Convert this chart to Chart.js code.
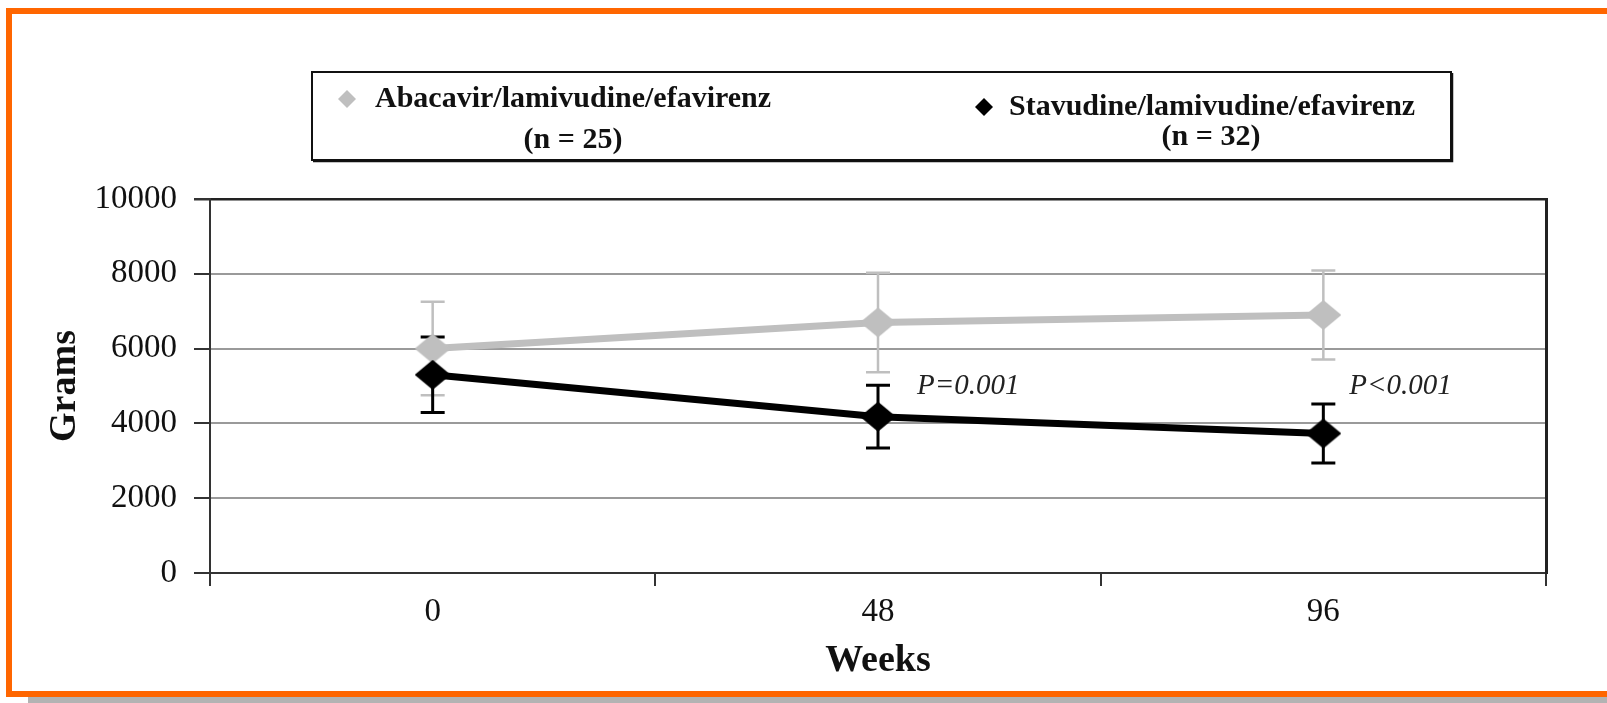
<!DOCTYPE html>
<html>
<head>
  <title>Grams by week</title>
  <script src="https://cdn.jsdelivr.net/npm/chart.js"></script>
  <style>
    html, body { margin: 0; padding: 0; background: #fff; overflow: hidden; }
    #frame { position: absolute; left: 6px; top: 8px; width: 1700px; height: 677px;
             border: 6px solid #ff6600; border-right: none; }
    #shadow { position: absolute; left: 28px; top: 697px; width: 1600px; height: 6px; background: #b3b3b3; }
    #wrap { position: absolute; left: 0; top: 0; width: 1607px; height: 703px; }
  </style>
</head>
<body>
  <div id="frame"></div>
  <div id="shadow"></div>
  <div id="wrap"><canvas id="weightChart" width="1607" height="703"></canvas></div>
  <script>
    const weeks = ['0', '48', '96'];
    const abacavir = [6000, 6700, 6900];
    const abacavirErr = [1250, 1330, 1190];
    const stavudine = [5300, 4180, 3730];
    const stavudineErr = [1010, 840, 790];
    const pLabels = ['', 'P=0.001', 'P<0.001'];
    const pAt = [null, 5000, 5000];
    const legendNames = ['Abacavir/lamivudine/efavirenz', 'Stavudine/lamivudine/efavirenz'];
    const legendCounts = ['(n = 25)', '(n = 32)'];

    const GRAY = '#bfbfbf';
    const SERIF = '"Liberation Serif", "Times New Roman", serif';

    // wide diamond marker, the picture is a bit stretched
    function diamond(color, w, h) {
      const c = document.createElement('canvas');
      c.width = w; c.height = h;
      const g = c.getContext('2d');
      g.fillStyle = color;
      g.beginPath();
      g.moveTo(w / 2, 0); g.lineTo(w, h / 2); g.lineTo(w / 2, h); g.lineTo(0, h / 2);
      g.closePath();
      g.fill();
      return c;
    }

    const errorBars = {
      id: 'errorBars',
      beforeDatasetsDraw(chart) {
        const ctx = chart.ctx, x = chart.scales.x, y = chart.scales.y;
        const sets = [[abacavir, abacavirErr, GRAY, 2.5], [stavudine, stavudineErr, '#000', 3]];
        ctx.save();
        sets.forEach(([vals, errs, color, lw]) => {
          ctx.strokeStyle = color;
          ctx.lineWidth = lw;
          vals.forEach((v, i) => {
            const px = x.getPixelForValue(i);
            const top = y.getPixelForValue(v + errs[i]);
            const bot = y.getPixelForValue(v - errs[i]);
            ctx.beginPath();
            ctx.moveTo(px, top); ctx.lineTo(px, bot);
            ctx.moveTo(px - 12, top); ctx.lineTo(px + 12, top);
            ctx.moveTo(px - 12, bot); ctx.lineTo(px + 12, bot);
            ctx.stroke();
          });
        });
        ctx.restore();
      }
    };

    const notes = {
      id: 'notes',
      afterDraw(chart) {
        const ctx = chart.ctx, x = chart.scales.x, y = chart.scales.y;
        const dx = [0, 39, 26];
        ctx.save();
        ctx.font = 'italic 29px ' + SERIF;
        ctx.fillStyle = '#222';
        ctx.textBaseline = 'middle';
        pLabels.forEach((t, i) => {
          if (!t) return;
          ctx.fillText(t, x.getPixelForValue(i) + dx[i], y.getPixelForValue(pAt[i]));
        });

        // legend box
        ctx.strokeStyle = '#111';
        ctx.lineWidth = 2;
        ctx.strokeRect(312, 72, 1139, 88);
        ctx.lineWidth = 1.5;
        ctx.beginPath();
        ctx.moveTo(313, 161.5); ctx.lineTo(1452.5, 161.5); ctx.lineTo(1452.5, 73);
        ctx.stroke();

        const items = [
          { color: GRAY, mx: 347, my: 99, tx: 375, ty: 99, cx: 573, cy: 140 },
          { color: '#000', mx: 984, my: 107, tx: 1009, ty: 107, cx: 1211, cy: 137 }
        ];
        ctx.font = 'bold 30px ' + SERIF;
        items.forEach((it, i) => {
          ctx.fillStyle = it.color;
          ctx.beginPath();
          ctx.moveTo(it.mx, it.my - 9); ctx.lineTo(it.mx + 9, it.my);
          ctx.lineTo(it.mx, it.my + 9); ctx.lineTo(it.mx - 9, it.my);
          ctx.closePath();
          ctx.fill();
          ctx.fillStyle = '#111';
          ctx.textAlign = 'left';
          ctx.fillText(legendNames[i], it.tx, it.ty);
          ctx.textAlign = 'center';
          ctx.fillText(legendCounts[i], it.cx, it.cy);
        });
        ctx.restore();
      }
    };

    const ctx = document.getElementById('weightChart').getContext('2d');
    new Chart(ctx, {
      type: 'line',
      data: {
        labels: weeks,
        datasets: [
          { label: 'Abacavir/lamivudine/efavirenz (n = 25)', data: abacavir, borderColor: GRAY,
            backgroundColor: GRAY, borderWidth: 7, tension: 0, order: 2,
            pointStyle: diamond(GRAY, 36, 30), pointRadius: 15 },
          { label: 'Stavudine/lamivudine/efavirenz (n = 32)', data: stavudine, borderColor: '#000',
            backgroundColor: '#000', borderWidth: 7, tension: 0, order: 1,
            pointStyle: diamond('#000', 36, 30), pointRadius: 15 }
        ]
      },
      options: {
        responsive: false,
        animation: false,
        layout: { padding: { left: 0, top: 199, right: 61, bottom: 19 } },
        plugins: { legend: { display: false }, tooltip: { enabled: false } },
        scales: {
          x: {
            type: 'category',
            offset: true,
            grid: { offset: true, drawOnChartArea: false, drawTicks: true, tickLength: 13,
                    tickColor: '#333', lineWidth: 2 },
            border: { color: '#333', width: 2 },
            ticks: { color: '#111', padding: 7, font: { family: SERIF, size: 33 } },
            title: { display: true, text: 'Weeks', color: '#111', padding: { top: 7, bottom: 0 },
                     font: { family: SERIF, size: 38, weight: 'bold' } },
            afterFit(s) { s.height = 111; }
          },
          y: {
            min: 0, max: 10000,
            ticks: { stepSize: 2000, color: '#111', padding: 17, callback: v => String(v),
                     font: { family: SERIF, size: 33 } },
            grid: {
              color: c => c.tick.value === 10000 ? '#222' : (c.tick.value === 0 ? '#333' : '#9a9a9a'),
              lineWidth: c => c.tick.value === 10000 ? 2.5 : 2,
              tickColor: '#333', tickLength: 16
            },
            border: { color: '#333', width: 2 },
            title: { display: true, text: 'Grams', color: '#111', padding: { top: 42, bottom: 0 },
                     font: { family: SERIF, size: 38, weight: 'bold' } },
            afterFit(s) { s.width = 210; }
          },
          y2: {
            display: true,
            position: 'right',
            ticks: { display: false },
            grid: { drawOnChartArea: false, drawTicks: false },
            border: { color: '#222', width: 3 },
            afterFit(s) { s.width = 0; }
          }
        }
      },
      plugins: [errorBars, notes]
    });
  </script>
</body>
</html>
